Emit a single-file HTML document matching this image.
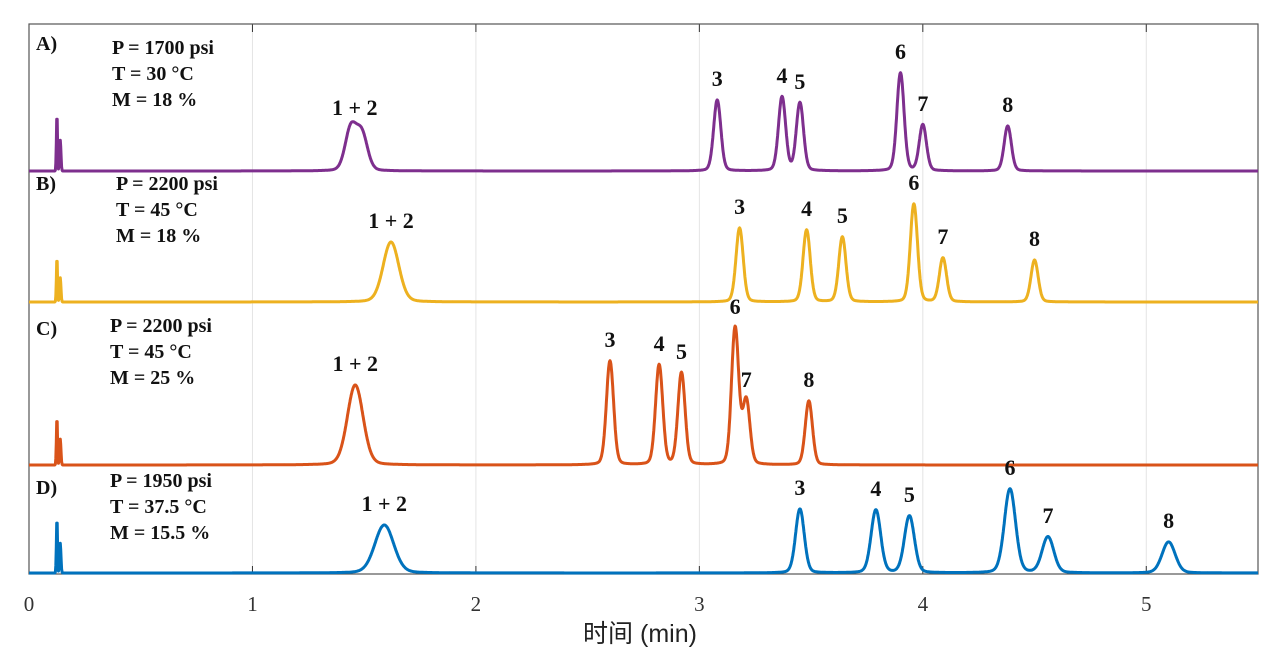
<!DOCTYPE html>
<html><head><meta charset="utf-8"><style>
body{margin:0;background:#fff;}
svg text{font-family:"Liberation Serif",serif;}
</style></head><body>
<svg id="chart" width="1280" height="663" viewBox="0 0 1280 663" xmlns="http://www.w3.org/2000/svg"></svg>
<script>
// ---- data ----
const traceNames = ["A)","B)","C)","D)"];
const traceColors = ["#7E2F8E","#EDB120","#D95319","#0072BD"];
const traceParams = [
 ["P = 1700 psi","T = 30 °C","M = 18 %"],
 ["P = 2200 psi","T = 45 °C","M = 18 %"],
 ["P = 2200 psi","T = 45 °C","M = 25 %"],
 ["P = 1950 psi","T = 37.5 °C","M = 15.5 %"]];
const peakLabels = ["1 + 2","3","4","5","6","7","8"];
const peakTimesA = [1.44,3.08,3.37,3.45,3.90,4.00,4.38];
const peakHeightsA = [42,71,74,68,98,46,45];
const peakTimesB = [1.62,3.18,3.48,3.64,3.96,4.09,4.50];
const peakHeightsB = [60,74,72,65,98,44,42];
const peakTimesC = [1.46,2.60,2.82,2.92,3.16,3.21,3.49];
const peakHeightsC = [80,104,100,92,137,64,64];
const peakTimesD = [1.59,3.45,3.79,3.94,4.39,4.56,5.10];
const peakHeightsD = [48,64,63,57,84,36,31];
const shoulderA = [1.49,36];
const injHeights = [56,44,47,54];
const xTicks = [0,1,2,3,4,5];
// ---- layout ----
const X0=29, X1=1258, TMAX=5.5, TOP=24, BOT=574;
const baselines=[171,302,465,573];
const xs=t=>X0+(t/TMAX)*(X1-X0);
const ys=(i,v)=>baselines[i]-v;
const svg=document.getElementById('chart');
const NS="http://www.w3.org/2000/svg";
function mk(tag,attrs){const e=document.createElementNS(NS,tag);for(const k in attrs)e.setAttribute(k,attrs[k]);svg.appendChild(e);return e;}
function pk(t,c,h,s){const z=(t-c)/s;return h*(0.85*Math.exp(-z*z/2)+0.15/(1+z*z*0.6));}
// grid
xTicks.forEach(t=>{
 const g=mk('line',{x1:xs(t),x2:xs(t),y1:TOP,y2:BOT,stroke:'#e4e4e4','stroke-width':1});
 
 
 const tk=mk('line',{x1:xs(t),x2:xs(t),y1:TOP,y2:TOP+8,stroke:'#333','stroke-width':1});
 
 
 const tb=mk('line',{x1:xs(t),x2:xs(t),y1:BOT,y2:BOT-8,stroke:'#333','stroke-width':1});
 
 
 const lb=mk('text',{x:xs(t),y:611,'text-anchor':'middle','font-size':21,fill:'#333'});
 lb.textContent=t;
 
 
});
const frame=mk('rect',{x:X0,y:TOP,width:X1-X0,height:BOT-TOP,fill:'none',stroke:'#555','stroke-width':1.2});


const xt=mk('text',{x:640,y:642,'text-anchor':'middle','font-size':25,fill:'#222'});
xt.setAttribute('style','font-family:"Liberation Sans","Noto Sans CJK SC",sans-serif');
xt.textContent='时间 (min)';


// traces
const allTimes=[peakTimesA,peakTimesB,peakTimesC,peakTimesD];
const allHeights=[peakHeightsA,peakHeightsB,peakHeightsC,peakHeightsD];
const labelY=[[50,54,80,106],[190,190,216,242],[335,332,358,384],[494,487,513,539]];
const paramX=[112,116,110,110];
for(let i=0;i<4;i++){
 const T=allTimes[i],H=allHeights[i];
 const sig=T.map((t,k)=>k===0?(i===0?0.025:(i===3?0.042:0.035)):(i===3?0.019+0.006*(t-3.4):0.016));
 let d='';
 for(let t=0;t<=TMAX+1e-9;t+=0.002){
  let v=0;
  v+=injHeights[i]*Math.exp(-((t-0.125)**2)/(2*0.0025**2));
  v+=injHeights[i]*0.55*Math.exp(-((t-0.14)**2)/(2*0.003**2));
  for(let k=0;k<T.length;k++) v+=pk(t,T[k],H[k],sig[k]);
  if(i===0) v+=pk(t,shoulderA[0],shoulderA[1],0.025);
  d+=(d?'L':'M')+xs(t).toFixed(1)+','+ys(i,v).toFixed(1);
 }
 const p=mk('path',{d:d,fill:'none',stroke:traceColors[i],'stroke-width':3,'stroke-linejoin':'round'});
 
 
 T.forEach((t,k)=>{
  const lx=xs(t)+(k===0?(i===0?4:0):0);
  const l=mk('text',{x:lx,y:ys(i,H[k])-14,'text-anchor':'middle','font-size':22,'font-weight':'bold',fill:'#111'});
  l.textContent=peakLabels[k];
  
  
 });
 const n=mk('text',{x:36,y:labelY[i][0],'font-size':20,'font-weight':'bold',fill:'#111'});
 n.textContent=traceNames[i];
 
 
 traceParams[i].forEach((s,k)=>{
  const q=mk('text',{x:paramX[i],y:labelY[i][k+1],'font-size':20,'font-weight':'bold',fill:'#111'});
  q.textContent=s;
  
  
 });
}
</script>
</body></html>
